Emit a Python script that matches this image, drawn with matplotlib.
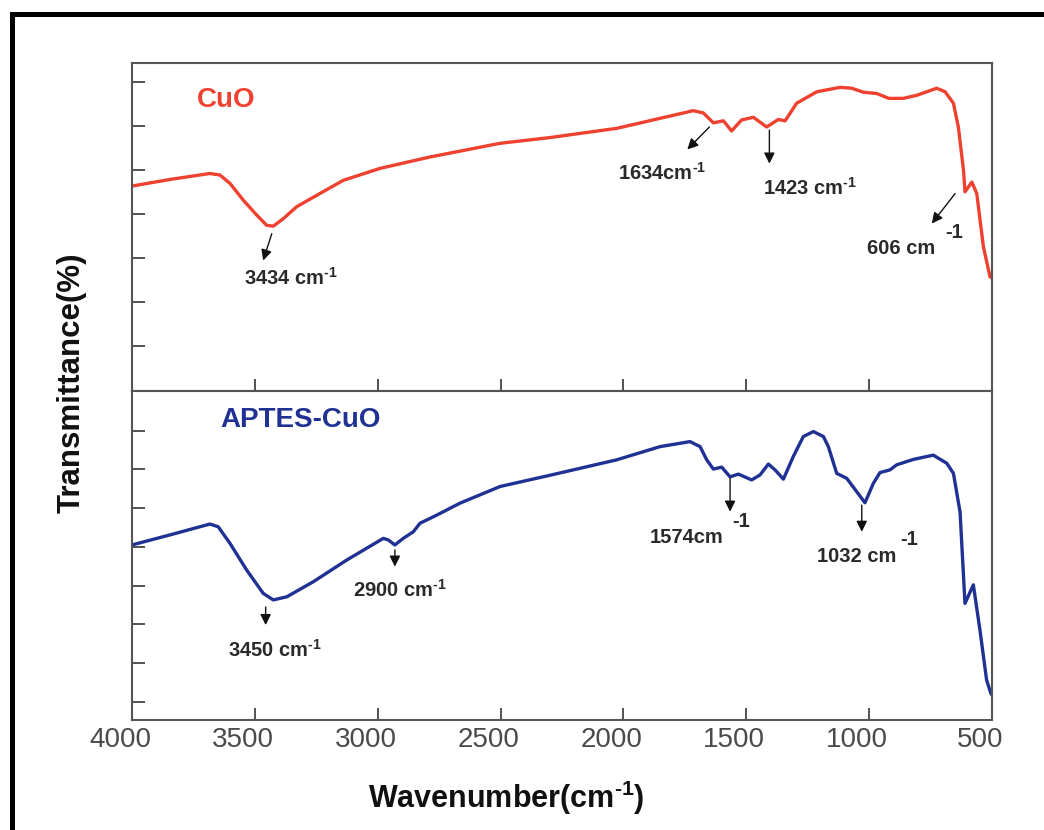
import numpy as np
import matplotlib
matplotlib.use('Agg')
import matplotlib.pyplot as plt
from matplotlib.lines import Line2D
from matplotlib.transforms import ScaledTranslation

plt.rcParams['font.family'] = ['Liberation Sans', 'DejaVu Sans']
plt.rcParams['mathtext.fontset'] = 'custom'
plt.rcParams['mathtext.rm'] = 'Liberation Sans:bold'
plt.rcParams['mathtext.it'] = 'Liberation Sans:bold'
plt.rcParams['mathtext.bf'] = 'Liberation Sans:bold'

# CuO spectrum (arbitrary transmittance units)
cuo_wn = [4000, 3845, 3683, 3642, 3601, 3547, 3492, 3452, 3425, 3384, 3330, 3248,
          3140, 2991, 2787, 2502, 2299, 2027, 1716, 1675, 1634, 1593, 1560, 1519,
          1471, 1417, 1370, 1342, 1295, 1213, 1118, 1071, 1024, 969, 920, 861, 806,
          725, 691, 657, 637, 616, 610, 582, 562, 535, 508, 500]
cuo_t = [4.64, 4.79, 4.925, 4.89, 4.70, 4.32, 3.98, 3.75, 3.73, 3.90, 4.17, 4.43,
         4.77, 5.04, 5.30, 5.61, 5.74, 5.95, 6.35, 6.30, 6.075, 6.12, 5.89, 6.14,
         6.20, 5.98, 6.15, 6.12, 6.52, 6.78, 6.88, 6.86, 6.77, 6.74, 6.63, 6.63, 6.70,
         6.86, 6.78, 6.52, 5.98, 5.0, 4.51, 4.73, 4.47, 3.26, 2.58, 2.55]

# APTES-CuO spectrum
aptes_wn = [4000, 3845, 3683, 3649, 3601, 3533, 3466, 3425, 3370, 3262, 3126, 2977,
            2957, 2930, 2896, 2855, 2828, 2760, 2665, 2502, 2299, 2027, 1851, 1729,
            1688, 1661, 1634, 1600, 1566, 1532, 1478, 1444, 1410, 1383, 1349, 1309,
            1268, 1227, 1186, 1166, 1132, 1091, 1051, 1017, 983, 956, 915, 888, 820,
            739, 684, 657, 630, 610, 576, 549, 522, 505, 500]
aptes_t = [5.05, 5.31, 5.59, 5.52, 5.09, 4.40, 3.80, 3.63, 3.71, 4.10, 4.66, 5.22,
           5.18, 5.05, 5.22, 5.39, 5.61, 5.82, 6.13, 6.56, 6.85, 7.25, 7.59, 7.72,
           7.59, 7.25, 7.01, 7.06, 6.81, 6.88, 6.73, 6.86, 7.14, 6.99, 6.75, 7.33,
           7.85, 7.98, 7.85, 7.59, 6.90, 6.77, 6.43, 6.14, 6.64, 6.92, 6.99, 7.12, 7.26,
           7.37, 7.16, 6.90, 5.90, 3.54, 4.02, 2.85, 1.56, 1.22, 1.17]

x_ticks = [4000, 3500, 3000, 2500, 2000, 1500, 1000, 500]

SUP = "$^{\\text{-1}}$"
# (label, separate superscript, arrow tail, arrow head, text pos, superscript pos)
cuo_marks = [
    ("3434 cm" + SUP, None, (3431, 3.56), (3466, 2.95), (3544, 2.55), None),
    ("1634cm" + SUP, None, (1650, 5.98), (1740, 5.47), (2022, 4.93), None),
    ("1423 cm" + SUP, None, (1406, 5.91), (1406, 5.15), (1432, 4.59), None),
    ("606 cm", "-1", (650, 4.47), (745, 3.79), (1010, 3.22), (691, 3.59)),
]
aptes_marks = [
    ("3450 cm" + SUP, None, (3456, 3.45), (3456, 2.98), (3609, 2.34), None),
    ("2900 cm" + SUP, None, (2930, 4.92), (2930, 4.49), (3101, 3.89), None),
    ("1574cm", "-1", (1566, 6.77), (1566, 5.91), (1892, 5.23), (1559, 5.65)),
    ("1032 cm", "-1", (1030, 6.08), (1030, 5.39), (1213, 4.76), (874, 5.18)),
]

red = '#ef4130'
blue = '#1f3192'

fig = plt.figure(figsize=(10.44, 8.30), dpi=100)
ax1 = fig.add_axes([0.1264, 0.5295, 0.8238, 0.3950])
ax2 = fig.add_axes([0.1264, 0.1325, 0.8238, 0.3970])

ax1.plot(cuo_wn, cuo_t, color=red, lw=2.4, solid_joinstyle='round')
ax2.plot(aptes_wn, aptes_t, color=blue, lw=2.4, solid_joinstyle='round')

ax1.set_ylim(0, 7.44)
ax1.set_yticks(range(1, 8))
ax2.set_ylim(0.527, 9.04)
ax2.set_yticks(range(1, 9))

for ax in (ax1, ax2):
    ax.set_xlim(4000, 500)
    ax.set_xticks(x_ticks)
    ax.tick_params(direction='in', length=9, width=1.3, color='#444',
                   labelsize=20, labelcolor='#4a4a4a', pad=5)
    ax.set_yticklabels([])
    for s in ax.spines.values():
        s.set_color('#555')
        s.set_linewidth(1.5)

ax1.set_xticklabels([])
shift = ScaledTranslation(-0.12, 0, fig.dpi_scale_trans)
for lab in ax2.get_xticklabels():
    lab.set_transform(lab.get_transform() + shift)

ax1.text(3736, 6.59, "CuO", color=red, fontsize=20, fontweight='bold', va='center')
ax2.text(3642, 8.28, "APTES-CuO", color=blue, fontsize=20, fontweight='bold', va='center')


def mark(ax, items):
    for label, sup, tail, head, tpos, spos in items:
        ax.annotate("", xy=head, xytext=tail,
                    arrowprops=dict(arrowstyle='-|>', color='#111', lw=1.0,
                                    mutation_scale=16, shrinkA=0, shrinkB=0))
        ax.text(tpos[0], tpos[1], label, fontsize=14.5, fontweight='bold',
                color='#2a2a2a', ha='left', va='center')
        if sup:
            ax.text(spos[0], spos[1], sup, fontsize=14.5, fontweight='bold',
                    color='#2a2a2a', ha='left', va='center')


mark(ax1, cuo_marks)
mark(ax2, aptes_marks)

fig.text(0.485, 0.0265, "Wavenumber(cm$^{\\text{-1}}$)", fontsize=22, fontweight='bold',
         ha='center', va='baseline', color='#111')
fig.text(0.069, 0.5386, "Transmittance(%)", fontsize=22.5, fontweight='bold',
         rotation=90, ha='center', va='center', color='#111')

# black frame along top and left edges
fig.add_artist(Line2D([0.0115, 1.0], [0.983, 0.983], color='k', lw=3.6,
                      transform=fig.transFigure))
fig.add_artist(Line2D([0.0115, 0.0115], [0.0, 0.983], color='k', lw=3.6,
                      transform=fig.transFigure))

fig.savefig('out.png', dpi=100)
